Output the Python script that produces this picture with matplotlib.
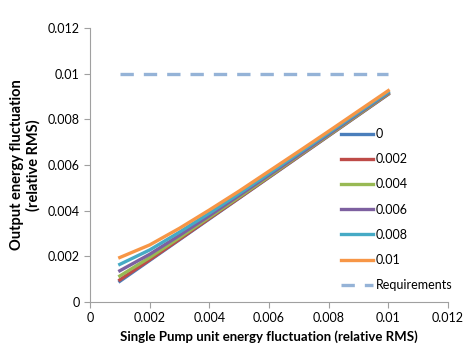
import matplotlib
matplotlib.use("Agg")
from matplotlib import pyplot as plt

# x values: single pump unit energy fluctuation
pump_rms = [0.001, 0.002, 0.003, 0.004, 0.005, 0.006, 0.007, 0.008, 0.009, 0.010]

# output energy fluctuation per series
out_0 = [0.00091, 0.00182, 0.00273, 0.00364, 0.00455, 0.00546, 0.00637, 0.00728, 0.00819, 0.00910]
out_002 = [0.00097, 0.00185, 0.00275, 0.00366, 0.00456, 0.00547, 0.00638, 0.00729, 0.00820, 0.00911]
out_004 = [0.00114, 0.00195, 0.00282, 0.00371, 0.00460, 0.00550, 0.00641, 0.00731, 0.00822, 0.00913]
out_006 = [0.00137, 0.00209, 0.00292, 0.00378, 0.00467, 0.00556, 0.00645, 0.00735, 0.00826, 0.00916]
out_008 = [0.00165, 0.00228, 0.00306, 0.00389, 0.00475, 0.00563, 0.00652, 0.00741, 0.00831, 0.00920]
out_01 = [0.00195, 0.00250, 0.00323, 0.00403, 0.00486, 0.00573, 0.00660, 0.00748, 0.00837, 0.00926]

req_x = [0.001, 0.010]
req_y = [0.01, 0.01]

labels = ["0", "0.002", "0.004", "0.006", "0.008", "0.01"]
colors = ["#4A7EBB", "#BE4B48", "#98B954", "#7D60A0", "#46AAC5", "#F79646"]

plt.rcParams['font.family'] = ['Lato', 'DejaVu Sans']

fig = plt.figure(figsize=(4.71, 3.6), dpi=100)
ax = fig.add_axes([0.191, 0.161, 0.760, 0.761])

series = [out_0, out_002, out_004, out_006, out_008, out_01]
for ys, lab, col in zip(series, labels, colors):
    ax.plot(pump_rms, ys, color=col, lw=2.4, label=lab, solid_joinstyle="round")
ax.plot(req_x, req_y, color="#95B3D7", lw=2.4, ls=(0, (4, 3)), label="Requirements")

ax.set_xlim(0, 0.012)
ax.set_ylim(0, 0.012)
ax.set_xticks([0, 0.002, 0.004, 0.006, 0.008, 0.01, 0.012])
ax.set_xticklabels(["0", "0.002", "0.004", "0.006", "0.008", "0.01", "0.012"])
ax.set_yticks([0, 0.002, 0.004, 0.006, 0.008, 0.01, 0.012])
ax.set_yticklabels(["0", "0.002", "0.004", "0.006", "0.008", "0.01", "0.012"])

for s in ["top", "right"]:
    ax.spines[s].set_visible(False)
for s in ["left", "bottom"]:
    ax.spines[s].set_color("#A0A0A0")
ax.tick_params(colors="#A0A0A0", labelcolor="black", labelsize=9, length=4)

ax.set_xlabel("Single Pump unit energy fluctuation (relative RMS)", fontsize=9.5, fontweight="bold")
ax.set_ylabel("Output energy fluctuation\n(relative RMS)", fontsize=10.5, fontweight="bold", labelpad=5)

ax.legend(loc="upper left", bbox_to_anchor=(0.70, 0.675), bbox_transform=fig.transFigure,
          frameon=False, fontsize=9, labelspacing=1.05, handlelength=2.6, handletextpad=0.2)

fig.savefig("out.png", dpi=100)
